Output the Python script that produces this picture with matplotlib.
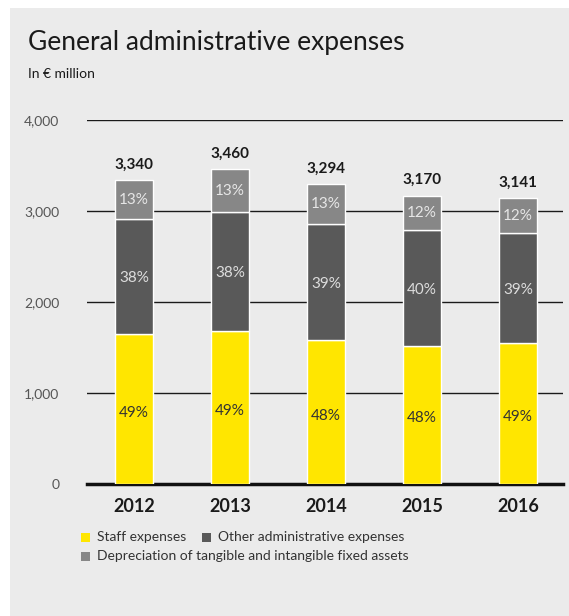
import matplotlib.pyplot as plt
from matplotlib.patches import Rectangle
import numpy as np

plt.rcParams["font.family"] = ["Lato", "DejaVu Sans"]

# Data (EUR million)
years = ["2012", "2013", "2014", "2015", "2016"]
staff = [1648, 1681, 1580, 1520, 1545]
other = [1264, 1308, 1277, 1271, 1213]
depreciation = [428, 471, 437, 379, 383]
totals = ["3,340", "3,460", "3,294", "3,170", "3,141"]
staff_pct = ["49%", "49%", "48%", "48%", "49%"]
other_pct = ["38%", "38%", "39%", "40%", "39%"]
dep_pct = ["13%", "13%", "13%", "12%", "12%"]

yellow = "#FFE600"
dark = "#595959"
grey = "#878787"
bg = "#EBEBEB"

fig = plt.figure(figsize=(5.69, 6.16), dpi=100)
fig.patch.set_facecolor("white")
fig.patches.append(Rectangle((10 / 569, 0), 1, 1 - 8 / 616, transform=fig.transFigure,
                             facecolor=bg, edgecolor="none", zorder=-10))

fig.text(28 / 569, 1 - 50 / 616, "General administrative expenses", fontsize=19,
         color="#1a1a1a")
fig.text(28 / 569, 1 - 78 / 616, "In € million", fontsize=10, color="#1a1a1a")

ax = fig.add_axes([87 / 569, 132 / 616, 476 / 569, 364 / 616])
ax.set_facecolor("none")

x = np.arange(len(years))
w = 0.4
staff = np.array(staff)
other = np.array(other)
depreciation = np.array(depreciation)

ax.bar(x, staff, w, color=yellow, edgecolor="white", linewidth=1, zorder=3)
ax.bar(x, other, w, bottom=staff, color=dark, edgecolor="white", linewidth=1, zorder=3)
ax.bar(x, depreciation, w, bottom=staff + other, color=grey, edgecolor="white",
       linewidth=1, zorder=3)

for i in range(len(years)):
    top = staff[i] + other[i] + depreciation[i]
    ax.text(x[i], staff[i] / 2 - 40, staff_pct[i], ha="center", va="center",
            fontsize=11, color="#333333", zorder=4)
    ax.text(x[i], staff[i] + other[i] / 2 - 20, other_pct[i], ha="center", va="center",
            fontsize=11, color="#dddddd", zorder=4)
    ax.text(x[i], staff[i] + other[i] + depreciation[i] / 2, dep_pct[i], ha="center",
            va="center", fontsize=11, color="#e6e6e6", zorder=4)
    ax.text(x[i], top + 95, totals[i], ha="center", va="bottom", fontsize=11,
            fontweight="bold", color="#1a1a1a", zorder=4)

ax.set_xlim(-0.49, 4.47)
ax.set_ylim(0, 4000)
ax.set_yticks([0, 1000, 2000, 3000, 4000])
ax.set_yticklabels(["0", "1,000", "2,000", "3,000", "4,000"])
ax.yaxis.grid(True, color="#1a1a1a", linewidth=1)
ax.set_axisbelow(True)
for s in ["top", "right", "left"]:
    ax.spines[s].set_visible(False)
ax.spines["bottom"].set_linewidth(2.5)
ax.spines["bottom"].set_color("#111111")
ax.tick_params(axis="y", length=0, pad=20, labelsize=10, labelcolor="#555555")
ax.tick_params(axis="x", length=0, pad=10, labelsize=13)
ax.set_xticks(x)
ax.set_xticklabels(years, fontweight="bold", color="#1a1a1a")

# legend
fig.patches.append(Rectangle((81 / 569, 1 - 542 / 616), 9 / 569, 9 / 616,
                             transform=fig.transFigure, facecolor=yellow, edgecolor="none"))
fig.text(97 / 569, 1 - 537 / 616, "Staff expenses", fontsize=10, va="center",
         color="#333333")
fig.patches.append(Rectangle((202 / 569, 1 - 542 / 616), 9 / 569, 9 / 616,
                             transform=fig.transFigure, facecolor=dark, edgecolor="none"))
fig.text(218 / 569, 1 - 537 / 616, "Other administrative expenses", fontsize=10,
         va="center", color="#333333")
fig.patches.append(Rectangle((81 / 569, 1 - 561 / 616), 9 / 569, 9 / 616,
                             transform=fig.transFigure, facecolor=grey, edgecolor="none"))
fig.text(97 / 569, 1 - 556 / 616, "Depreciation of tangible and intangible fixed assets",
         fontsize=10, va="center", color="#333333")

fig.savefig("out.png", dpi=100)
